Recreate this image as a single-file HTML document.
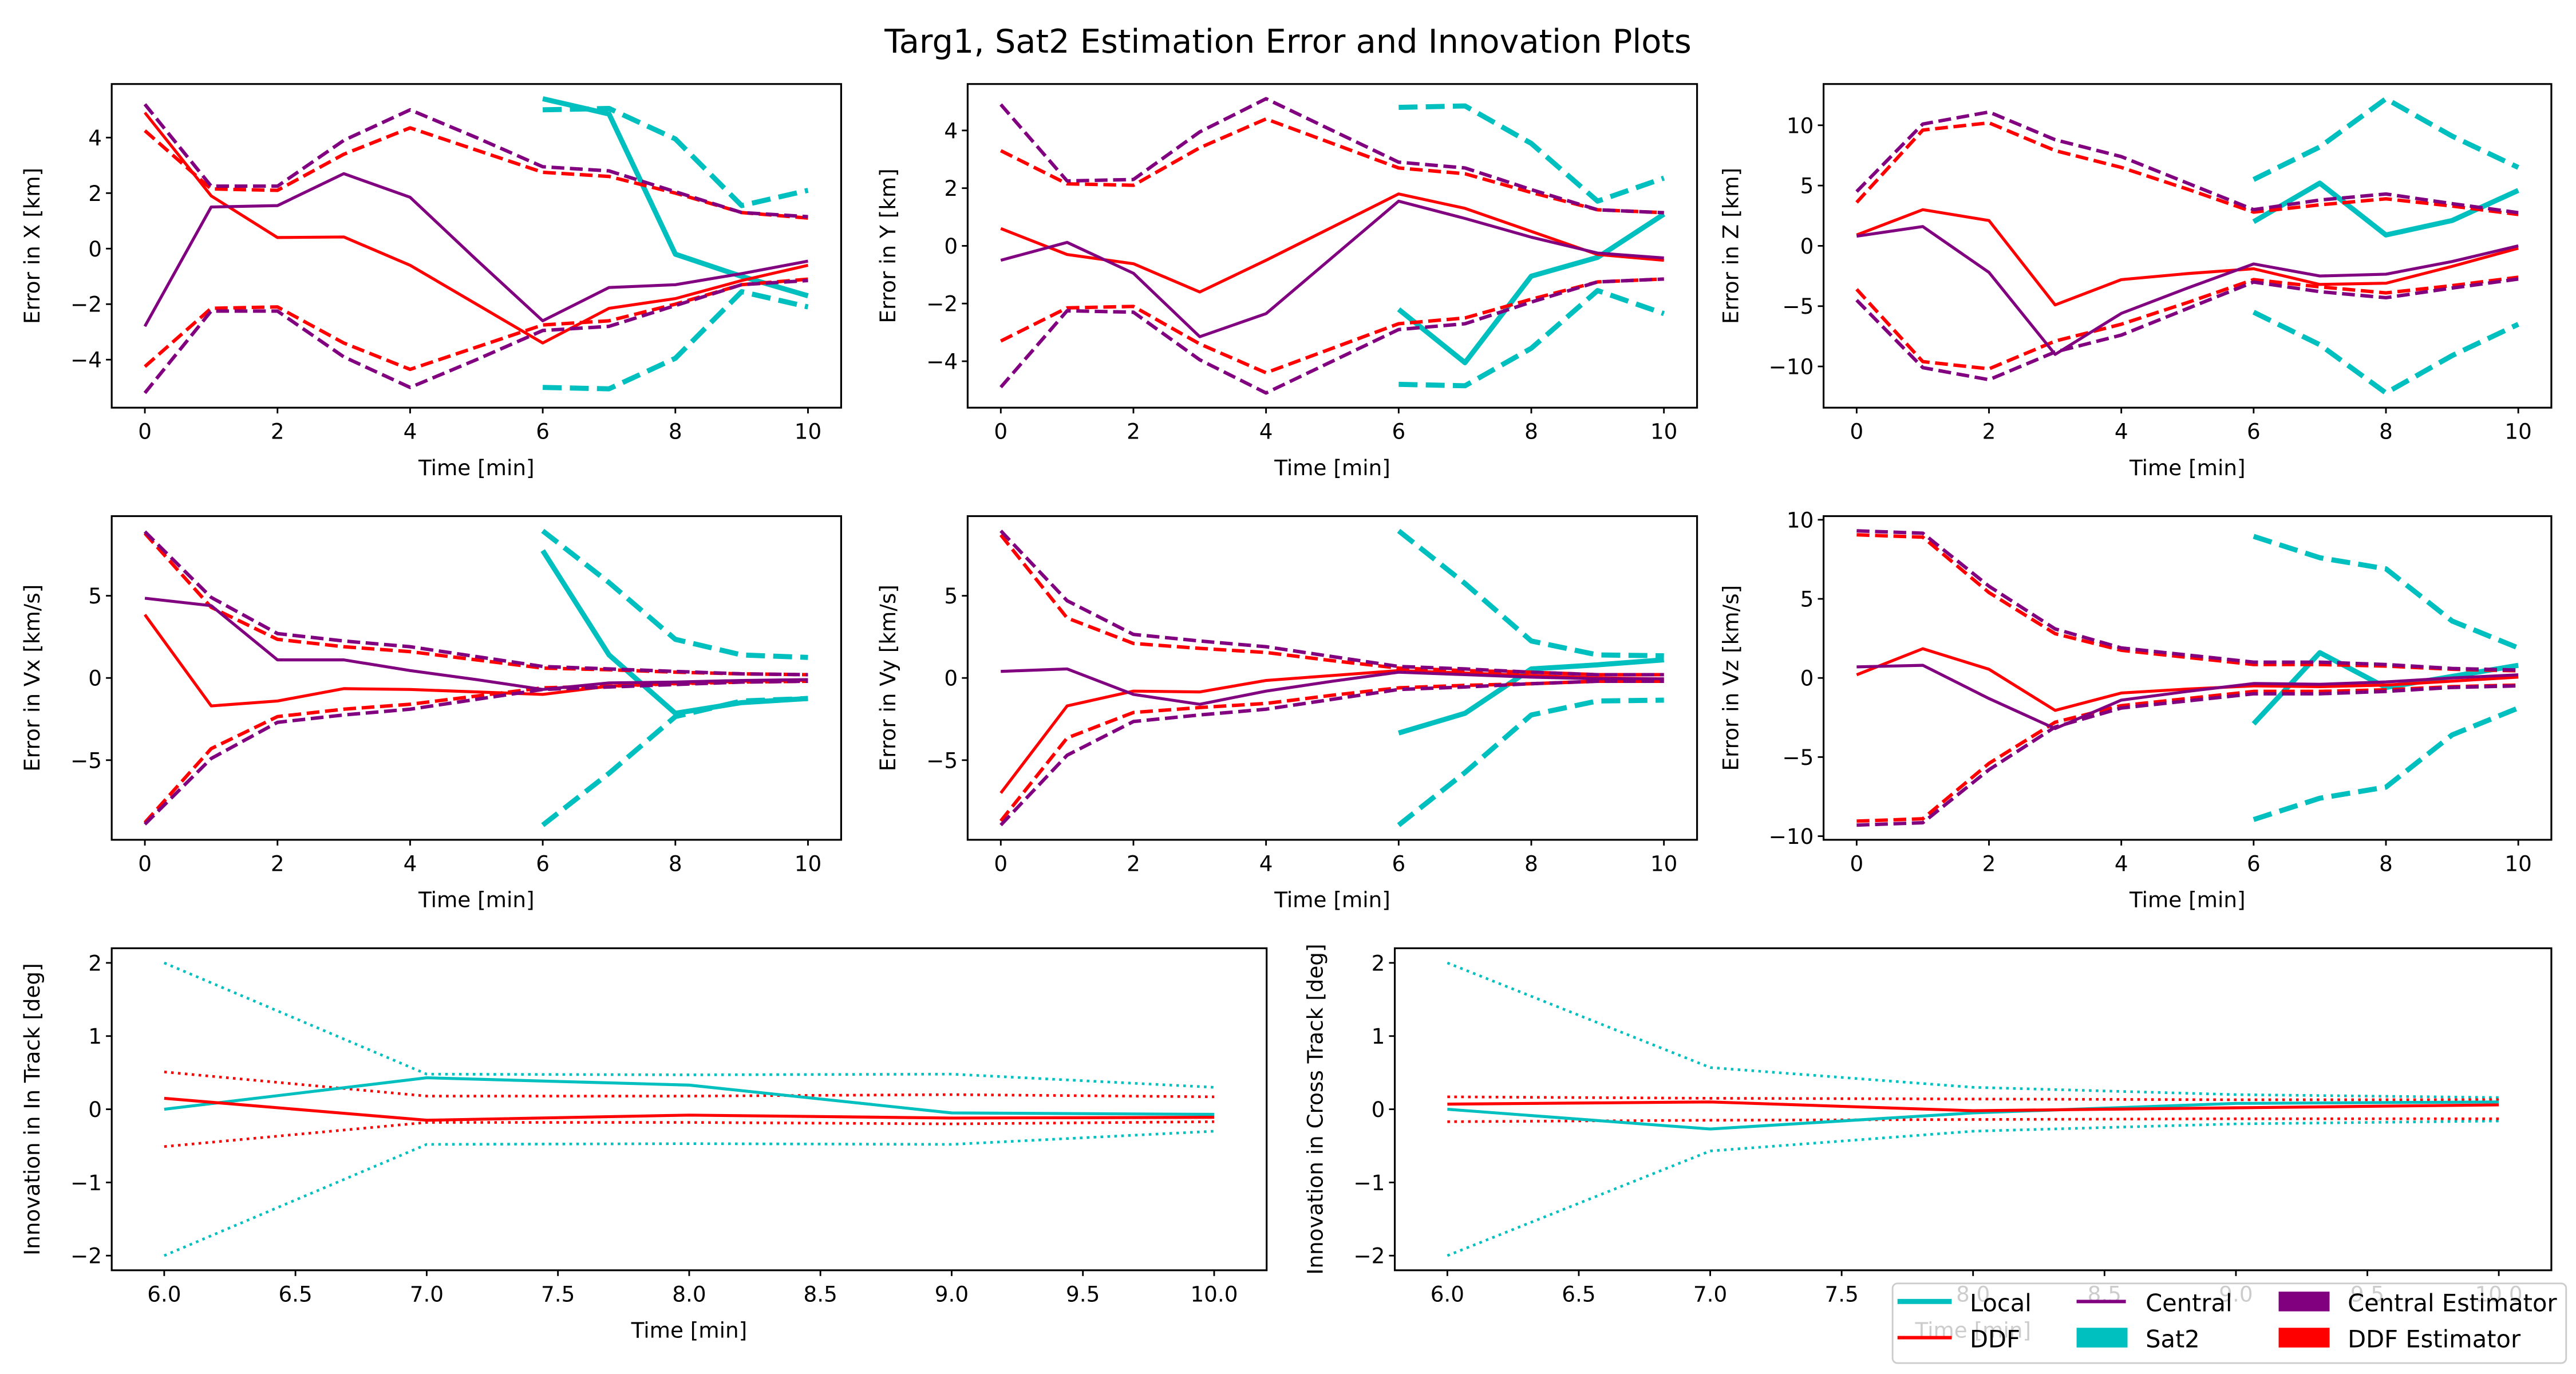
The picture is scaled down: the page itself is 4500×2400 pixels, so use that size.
<!DOCTYPE html>
<html><head><meta charset="utf-8"><style>
html,body{margin:0;padding:0;background:#fff;}
svg{display:block;}
text{font-family:"DejaVu Sans","Liberation Sans",sans-serif;fill:#000;}
</style></head><body>
<svg id="fig" xmlns="http://www.w3.org/2000/svg" width="4500" height="2400" viewBox="0 0 1568 836">
<rect x="0" y="0" width="1568" height="836" fill="#fff"/>
<text x="784" y="32" font-size="20" text-anchor="middle">Targ1, Sat2 Estimation Error and Innovation Plots</text>
<g id="plots"></g>
<g id="legend">
<rect x="1152" y="781" width="410" height="48.5" rx="3" fill="#fff" fill-opacity="0.8" stroke="#ccc" stroke-width="1"/>
<line x1="1155" y1="792" x2="1188" y2="792" stroke="#00BFBF" stroke-width="3.1"/>
<text x="1199" y="798" font-size="14.5">Local</text>
<line x1="1155" y1="814" x2="1188" y2="814" stroke="#FF0000" stroke-width="2.1"/>
<text x="1199" y="820" font-size="14.5">DDF</text>
<line x1="1264" y1="792" x2="1294" y2="792" stroke="#800080" stroke-width="2.1"/>
<text x="1306" y="798" font-size="14.5">Central</text>
<rect x="1264" y="808" width="31" height="12" fill="#00BFBF"/>
<text x="1306" y="820" font-size="14.5">Sat2</text>
<rect x="1387" y="786" width="31" height="12" fill="#800080"/>
<text x="1429" y="798" font-size="14.5">Central Estimator</text>
<rect x="1387" y="808" width="31" height="12" fill="#FF0000"/>
<text x="1429" y="820" font-size="14.5">DDF Estimator</text>
</g>
</svg>
<script>
// ---- data ----
const timeEst = [0,1,2,3,4,5,6,7,8,9,10];
const timeSat = [6,7,8,9,10];
const timeTicks = [0,2,4,6,8,10];
const innovTicksX = [6.0,6.5,7.0,7.5,8.0,8.5,9.0,9.5,10.0];
const innovTicksY = [-2,-1,0,1,2];

const xCentral = [-2.8,1.5,1.55,2.7,1.85,-0.4,-2.6,-1.4,-1.3,-0.9,-0.45];
const xCentralBound = [5.2,2.25,2.25,3.9,5.0,4.0,2.95,2.8,2.05,1.3,1.15];
const xDdf = [4.9,1.9,0.4,0.42,-0.6,-2.0,-3.4,-2.15,-1.8,-1.15,-0.6];
const xDdfBound = [4.25,2.15,2.1,3.4,4.35,3.55,2.75,2.6,2.0,1.3,1.1];
const xSat = [5.4,4.85,-0.2,-1.0,-1.7];
const xSatBound = [5.0,5.05,3.95,1.55,2.1];
const xTicks = [-4,-2,0,2,4];

const yCentral = [-0.5,0.12,-0.95,-3.15,-2.35,-0.4,1.55,0.95,0.3,-0.25,-0.42];
const yCentralBound = [4.9,2.25,2.3,3.95,5.1,4.0,2.9,2.7,1.95,1.25,1.15];
const yDdf = [0.6,-0.3,-0.62,-1.6,-0.5,0.65,1.8,1.3,0.5,-0.3,-0.5];
const yDdfBound = [3.3,2.15,2.1,3.4,4.4,3.55,2.7,2.5,1.85,1.25,1.15];
const ySat = [-2.2,-4.05,-1.05,-0.4,1.1];
const ySatBound = [4.8,4.85,3.55,1.55,2.35];
const yTicks = [-4,-2,0,2,4];

const zCentral = [0.8,1.6,-2.2,-9.0,-5.6,-3.5,-1.5,-2.5,-2.35,-1.3,0.0];
const zCentralBound = [4.5,10.1,11.1,8.8,7.4,5.2,3.0,3.8,4.3,3.5,2.75];
const zDdf = [0.9,3.0,2.1,-4.9,-2.8,-2.3,-1.9,-3.2,-3.1,-1.7,-0.2];
const zDdfBound = [3.6,9.6,10.2,7.9,6.5,4.7,2.8,3.4,3.9,3.3,2.6];
const zSat = [2.0,5.2,0.9,2.1,4.6];
const zSatBound = [5.5,8.2,12.2,9.1,6.5];
const zTicks = [-10,-5,0,5,10];

const vxCentral = [4.85,4.4,1.1,1.1,0.45,-0.1,-0.7,-0.3,-0.25,-0.15,-0.1];
const vxCentralBound = [8.9,4.9,2.7,2.25,1.9,1.3,0.7,0.55,0.4,0.25,0.2];
const vxDdf = [3.85,-1.7,-1.4,-0.65,-0.7,-0.85,-1.0,-0.5,-0.35,-0.2,-0.15];
const vxDdfBound = [8.8,4.3,2.35,1.9,1.6,1.1,0.6,0.5,0.35,0.25,0.2];
const vxSat = [7.75,1.4,-2.15,-1.5,-1.25];
const vxSatBound = [8.95,5.8,2.35,1.4,1.25];
const vxTicks = [-5,0,5];

const vyCentral = [0.4,0.55,-1.0,-1.6,-0.8,-0.2,0.35,0.2,0.05,-0.05,-0.05];
const vyCentralBound = [8.95,4.7,2.65,2.25,1.9,1.3,0.7,0.55,0.35,0.2,0.2];
const vyDdf = [-7.0,-1.7,-0.8,-0.85,-0.15,0.15,0.45,0.3,0.15,0.0,-0.05];
const vyDdfBound = [8.7,3.65,2.1,1.8,1.55,1.05,0.6,0.45,0.35,0.2,0.2];
const vySat = [-3.35,-2.15,0.55,0.8,1.1];
const vySatBound = [8.95,5.75,2.25,1.4,1.35];
const vyTicks = [-5,0,5];

const vzCentral = [0.7,0.8,-1.3,-3.2,-1.4,-0.85,-0.35,-0.4,-0.25,0.0,0.2];
const vzCentralBound = [9.3,9.15,5.8,3.1,1.9,1.45,1.0,1.0,0.85,0.6,0.5];
const vzDdf = [0.2,1.85,0.55,-2.05,-0.95,-0.7,-0.5,-0.55,-0.45,-0.2,0.05];
const vzDdfBound = [9.05,8.9,5.4,2.8,1.75,1.3,0.85,0.85,0.75,0.55,0.45];
const vzSat = [-2.9,1.6,-0.6,0.1,0.8];
const vzSatBound = [8.95,7.6,6.9,3.6,1.9];
const vzTicks = [-10,-5,0,5,10];

const itLocal = [0.0,0.43,0.33,-0.05,-0.07];
const itLocalBound = [2.0,0.48,0.47,0.48,0.3];
const itDdf = [0.15,-0.15,-0.08,-0.12,-0.11];
const itDdfBound = [0.51,0.18,0.18,0.2,0.17];

const ctLocal = [0.0,-0.27,-0.05,0.08,0.1];
const ctLocalBound = [2.0,0.57,0.3,0.2,0.16];
const ctDdf = [0.07,0.1,-0.02,0.02,0.06];
const ctDdfBound = [0.17,0.15,0.14,0.13,0.13];

// ---- drawing ----
const NS = 'http://www.w3.org/2000/svg';
const root = document.getElementById('plots');
const CY='#00BFBF', RD='#FF0000', PU='#800080';
const FS = 13;
function mk(tag, attrs, parent){
  const e=document.createElementNS(NS,tag);
  for(const k in attrs) e.setAttribute(k,attrs[k]);
  (parent||root).appendChild(e); return e;
}
function fmt(v,dec){ const s=v.toFixed(dec); return s.replace('-','\u2212'); }
function lim(arrs){
  let lo=Infinity,hi=-Infinity;
  arrs.forEach(a=>a.forEach(v=>{lo=Math.min(lo,v);hi=Math.max(hi,v);}));
  const m=(hi-lo)*0.05; return [lo-m,hi+m];
}
function panel(p){
  const g=mk('g',{});
  
  
  const [x0,x1]=p.xlim, [y0,y1]=p.ylim;
  const sx=v=>p.L+(v-x0)/(x1-x0)*(p.R-p.L);
  const sy=v=>p.B-(v-y0)/(y1-y0)*(p.B-p.T);
  function line(xs,ys,color,w,dash,nm){
    const pts=xs.map((x,i)=>sx(x).toFixed(2)+','+sy(ys[i]).toFixed(2)).join(' ');
    const el=mk('polyline',{points:pts,fill:'none',stroke:color,'stroke-width':w,'stroke-linejoin':'round'},g);
    if(dash) el.setAttribute('stroke-dasharray',dash);
    
    
  }
  p.series.forEach(s=>{
    line(s.x,s.y,s.c,s.w,s.d,s.n);
    if(s.sym) line(s.x,s.y.map(v=>-v),s.c,s.w,s.d,s.n+'-lower');
  });
  const fr=mk('rect',{x:p.L,y:p.T,width:p.R-p.L,height:p.B-p.T,fill:'none',stroke:'#000','stroke-width':1.1},g);
  
  
  p.xt.forEach(v=>{
    const x=sx(v);
    mk('line',{x1:x,y1:p.B,x2:x,y2:p.B+3.5,stroke:'#000','stroke-width':1},g);
    const t=mk('text',{x:x,y:p.B+19,'font-size':FS,'text-anchor':'middle'},g);
    t.textContent=fmt(v,p.xdec);
    
    
  });
  p.yt.forEach(v=>{
    const y=sy(v);
    mk('line',{x1:p.L-3.5,y1:y,x2:p.L,y2:y,stroke:'#000','stroke-width':1},g);
    const t=mk('text',{x:p.L-6,y:y+4.7,'font-size':FS,'text-anchor':'end'},g);
    t.textContent=fmt(v,0);
    
    
  });
  const xl=mk('text',{x:(p.L+p.R)/2,y:p.B+41,'font-size':FS,'text-anchor':'middle'},g);
  xl.textContent='Time [min]';
  
  
  const yc=(p.T+p.B)/2;
  const yl=mk('text',{x:p.ylx,y:yc,'font-size':FS,'text-anchor':'middle',transform:'rotate(-90 '+p.ylx+' '+yc+')'},g);
  yl.textContent=p.ylabel;
  
  
}
function estPanel(name,L,R,T,B,ylx,ylabel,c,cb,d,db,s,sb,yt){
  panel({name,L,R,T,B,ylx,ylabel,xlim:[-0.5,10.5],xt:timeTicks,xdec:0,yt,
    ylim:lim([c,cb,cb.map(v=>-v),d,db,db.map(v=>-v),s,sb,sb.map(v=>-v)]),
    series:[
      {x:timeSat,y:s,c:CY,w:3.1,n:'sat2-local-error'},
      {x:timeSat,y:sb,c:CY,w:3.1,d:'11.5 5',sym:true,n:'sat2-local-bound'},
      {x:timeEst,y:d,c:RD,w:1.8,n:'ddf-error'},
      {x:timeEst,y:db,c:RD,w:2.1,d:'7.8 3.4',sym:true,n:'ddf-bound'},
      {x:timeEst,y:c,c:PU,w:1.8,n:'central-error'},
      {x:timeEst,y:cb,c:PU,w:2.1,d:'7.8 3.4',sym:true,n:'central-bound'}
    ]});
}
estPanel('panel-error-x',68,512,51,248,24,'Error in X [km]',xCentral,xCentralBound,xDdf,xDdfBound,xSat,xSatBound,xTicks);
estPanel('panel-error-y',589,1033,51,248,545,'Error in Y [km]',yCentral,yCentralBound,yDdf,yDdfBound,ySat,ySatBound,yTicks);
estPanel('panel-error-z',1110,1553,51,248,1058,'Error in Z [km]',zCentral,zCentralBound,zDdf,zDdfBound,zSat,zSatBound,zTicks);
estPanel('panel-error-vx',68,512,314,511,24,'Error in Vx [km/s]',vxCentral,vxCentralBound,vxDdf,vxDdfBound,vxSat,vxSatBound,vxTicks);
estPanel('panel-error-vy',589,1033,314,511,545,'Error in Vy [km/s]',vyCentral,vyCentralBound,vyDdf,vyDdfBound,vySat,vySatBound,vyTicks);
estPanel('panel-error-vz',1110,1553,314,511,1058,'Error in Vz [km/s]',vzCentral,vzCentralBound,vzDdf,vzDdfBound,vzSat,vzSatBound,vzTicks);
function innovPanel(name,L,R,ylx,ylabel,loc,locb,ddf,ddfb){
  panel({name,L,R,T:577,B:773,ylx,ylabel,xlim:[5.8,10.2],xt:innovTicksX,xdec:1,yt:innovTicksY,
    ylim:lim([loc,locb,locb.map(v=>-v),ddf,ddfb,ddfb.map(v=>-v)]),
    series:[
      {x:timeSat,y:locb,c:CY,w:1.6,d:'1.6 2.6',sym:true,n:'local-innovation-bound'},
      {x:timeSat,y:ddfb,c:RD,w:1.6,d:'1.6 2.6',sym:true,n:'ddf-innovation-bound'},
      {x:timeSat,y:loc,c:CY,w:1.8,n:'local-innovation'},
      {x:timeSat,y:ddf,c:RD,w:1.8,n:'ddf-innovation'}
    ]});
}
innovPanel('panel-innovation-in-track',68,771,24,'Innovation in In Track [deg]',itLocal,itLocalBound,itDdf,itDdfBound);
innovPanel('panel-innovation-cross-track',849,1553,805,'Innovation in Cross Track [deg]',ctLocal,ctLocalBound,ctDdf,ctDdfBound);
document.getElementById('fig').appendChild(document.getElementById('legend'));
</script>
</body></html>
